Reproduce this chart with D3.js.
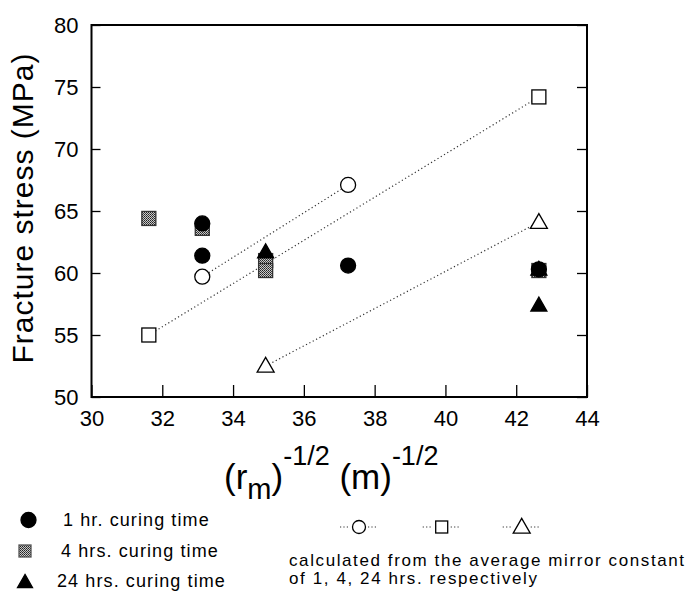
<!DOCTYPE html>
<html>
<head>
<meta charset="utf-8">
<script src="https://cdn.jsdelivr.net/npm/d3@7"></script>
<style>
  html, body { margin: 0; padding: 0; background: #fff; }
  svg { display: block; font-family: "Liberation Sans", Arial, Helvetica, sans-serif; }
</style>
</head>
<body>
<svg id="chart" width="692" height="594"></svg>
<script>
// Measured fracture stress (MPa) against (r_m)^-1/2 (m)^-1/2
const oneHour = [
  { x: 33.13, y: 64.0 },
  { x: 33.13, y: 61.4 },
  { x: 37.25, y: 60.6 },
  { x: 42.64, y: 60.3 }
];
const fourHours = [
  { x: 31.62, y: 64.4 },
  { x: 33.13, y: 63.6 },
  { x: 34.92, y: 61.0 },
  { x: 34.92, y: 60.2 },
  { x: 42.64, y: 60.2 }
];
const twentyFourHours = [
  { x: 34.92, y: 61.7 },
  { x: 42.64, y: 60.3 },
  { x: 42.64, y: 57.4 }
];

// Values calculated from the average mirror constant (1, 4, 24 hrs)
const calcOneHour = [ { x: 33.13, y: 59.7 }, { x: 37.25, y: 67.1 } ];
const calcFourHours = [ { x: 31.62, y: 55.0 }, { x: 42.64, y: 74.2 } ];
const calcTwentyFourHours = [ { x: 34.92, y: 52.5 }, { x: 42.64, y: 64.1 } ];

const xTicks = [30, 32, 34, 36, 38, 40, 42, 44];
const yTicks = [50, 55, 60, 65, 70, 75, 80];

const legendFilled = ["1 hr. curing time", "4 hrs. curing time", "24 hrs. curing time"];
const legendCalcLines = ["calculated from the average mirror constant", "of 1, 4, 24 hrs. respectively"];

const svg = d3.select("#chart");
const plotL = 91.5, plotR = 587, plotT = 25, plotB = 397;

const x = d3.scaleLinear().domain([30, 44]).range([plotL, plotR]);
const y = d3.scaleLinear().domain([50, 80]).range([plotB, plotT]);

// halftone fill for the 4 hr squares
const defs = svg.append("defs");
const pat = defs.append("pattern")
  .attr("id", "stipple").attr("patternUnits", "userSpaceOnUse")
  .attr("width", 2).attr("height", 2);
pat.append("rect").attr("width", 2).attr("height", 2).attr("fill", "#c8c8c8");
pat.append("rect").attr("width", 1).attr("height", 1).attr("fill", "#222");
pat.append("rect").attr("x", 1).attr("y", 1).attr("width", 1).attr("height", 1).attr("fill", "#444");

// axes: ticks point inward
const tickFont = 22;
const gx = svg.append("g").attr("transform", `translate(0,${plotB})`)
  .call(d3.axisBottom(x).tickValues(xTicks).tickSize(-12).tickPadding(0).tickFormat(d3.format("d")));
gx.selectAll("text").attr("font-size", tickFont).attr("fill", "#000")
  .attr("y", 21).attr("dy", "0.35em");
const gy = svg.append("g").attr("transform", `translate(${plotL},0)`)
  .call(d3.axisLeft(y).tickValues(yTicks).tickSize(-9).tickPadding(0).tickFormat(d3.format("d")));
gy.selectAll("text").attr("font-size", tickFont).attr("fill", "#000")
  .attr("x", -13).attr("dy", "0.35em");
const gr = svg.append("g").attr("transform", `translate(${plotR},0)`)
  .call(d3.axisRight(y).tickValues(yTicks).tickSize(-10).tickFormat(""));
[gx, gy, gr].forEach(g => {
  g.select(".domain").remove();
  g.selectAll("line").attr("stroke", "#000").attr("stroke-width", 1.3);
});

// frame
svg.append("rect").attr("x", plotL).attr("y", plotT)
  .attr("width", plotR - plotL).attr("height", plotB - plotT)
  .attr("fill", "none").attr("stroke", "#000").attr("stroke-width", 2);

// axis titles
svg.append("text")
  .attr("transform", `translate(33,208) rotate(-90)`)
  .attr("text-anchor", "middle").attr("font-size", 30).attr("letter-spacing", 1)
  .attr("fill", "#000")
  .text("Fracture stress (MPa)");

const xt = svg.append("text").attr("x", 224).attr("y", 489)
  .attr("font-size", 35).attr("fill", "#000");
xt.append("tspan").text("(r");
xt.append("tspan").attr("font-size", 29).attr("dy", 10).text("m");
xt.append("tspan").attr("dy", -10).text(")");
xt.append("tspan").attr("font-size", 27).attr("dy", -24).text("-1/2");
xt.append("tspan").attr("dy", 24).text(" (m)");
xt.append("tspan").attr("font-size", 27).attr("dy", -24).text("-1/2");

// marker drawing helpers
function triPath(w) {
  const h = w * 0.87;
  return `M0,${-h * 0.58}L${w / 2},${h * 0.42}L${-w / 2},${h * 0.42}Z`;
}
function drawCircle(g, cx, cy, r, fill) {
  g.append("circle").attr("cx", cx).attr("cy", cy).attr("r", r)
    .attr("fill", fill).attr("stroke", "#000").attr("stroke-width", 1.3);
}
function drawSquare(g, cx, cy, s, fill, stroke) {
  g.append("rect").attr("x", cx - s / 2).attr("y", cy - s / 2)
    .attr("width", s).attr("height", s)
    .attr("fill", fill).attr("stroke", stroke).attr("stroke-width", 1.3);
}
function drawTriangle(g, cx, cy, w, fill) {
  g.append("path").attr("d", triPath(w)).attr("transform", `translate(${cx},${cy})`)
    .attr("fill", fill).attr("stroke", "#000").attr("stroke-width", 1.3);
}

// dotted lines through the calculated values
const line = d3.line().x(d => x(d.x)).y(d => y(d.y));
const lines = svg.append("g");
[calcOneHour, calcFourHours, calcTwentyFourHours].forEach(s => {
  lines.append("path").attr("d", line(s)).attr("fill", "none")
    .attr("stroke", "#333").attr("stroke-width", 1.2).attr("stroke-dasharray", "1.2 2.6");
});

const marks = svg.append("g");
calcOneHour.forEach(d => drawCircle(marks, x(d.x), y(d.y), 7.5, "#fff"));
calcFourHours.forEach(d => drawSquare(marks, x(d.x), y(d.y), 14, "#fff", "#000"));
calcTwentyFourHours.forEach(d => drawTriangle(marks, x(d.x), y(d.y), 17, "#fff"));

fourHours.forEach(d => drawSquare(marks, x(d.x), y(d.y), 14, "url(#stipple)", "#333"));
oneHour.forEach(d => drawCircle(marks, x(d.x), y(d.y), 7.5, "#000"));
twentyFourHours.forEach(d => drawTriangle(marks, x(d.x), y(d.y), 16, "#000"));

function legText(g, tx, ty, t, size, spacing) {
  g.append("text").attr("x", tx).attr("y", ty)
    .attr("dy", "0.35em").attr("font-size", size).attr("letter-spacing", spacing)
    .attr("fill", "#000").text(t);
}

// legend: measured series
const leg = svg.append("g");
const legY = [520, 551, 581];
drawCircle(leg, 28.5, legY[0], 7.5, "#000");
drawSquare(leg, 25, legY[1], 12, "url(#stipple)", "#555");
drawTriangle(leg, 25, legY[2] + 1, 15, "#000");
const legX = [63, 61, 57];
legendFilled.forEach((t, i) => legText(leg, legX[i], legY[i], t, 18, 1.1));

// legend: calculated series
const cy0 = 527;
const calcX = [359, 441.7, 521.7];
calcX.forEach((cx, i) => {
  [[-19, -9], [9, 19]].forEach(([a, b]) => {
    leg.append("line").attr("x1", cx + a).attr("x2", cx + b).attr("y1", cy0).attr("y2", cy0)
      .attr("stroke", "#333").attr("stroke-width", 1.2).attr("stroke-dasharray", "1.2 2.2");
  });
  if (i === 0) drawCircle(leg, cx, cy0, 6.5, "#fff");
  if (i === 1) drawSquare(leg, cx, cy0, 12, "#fff", "#000");
  if (i === 2) drawTriangle(leg, cx, cy0, 17, "#fff");
});
legendCalcLines.forEach((t, i) => legText(leg, 289, 560 + i * 18, t, 17, 1.6));
</script>
</body>
</html>
